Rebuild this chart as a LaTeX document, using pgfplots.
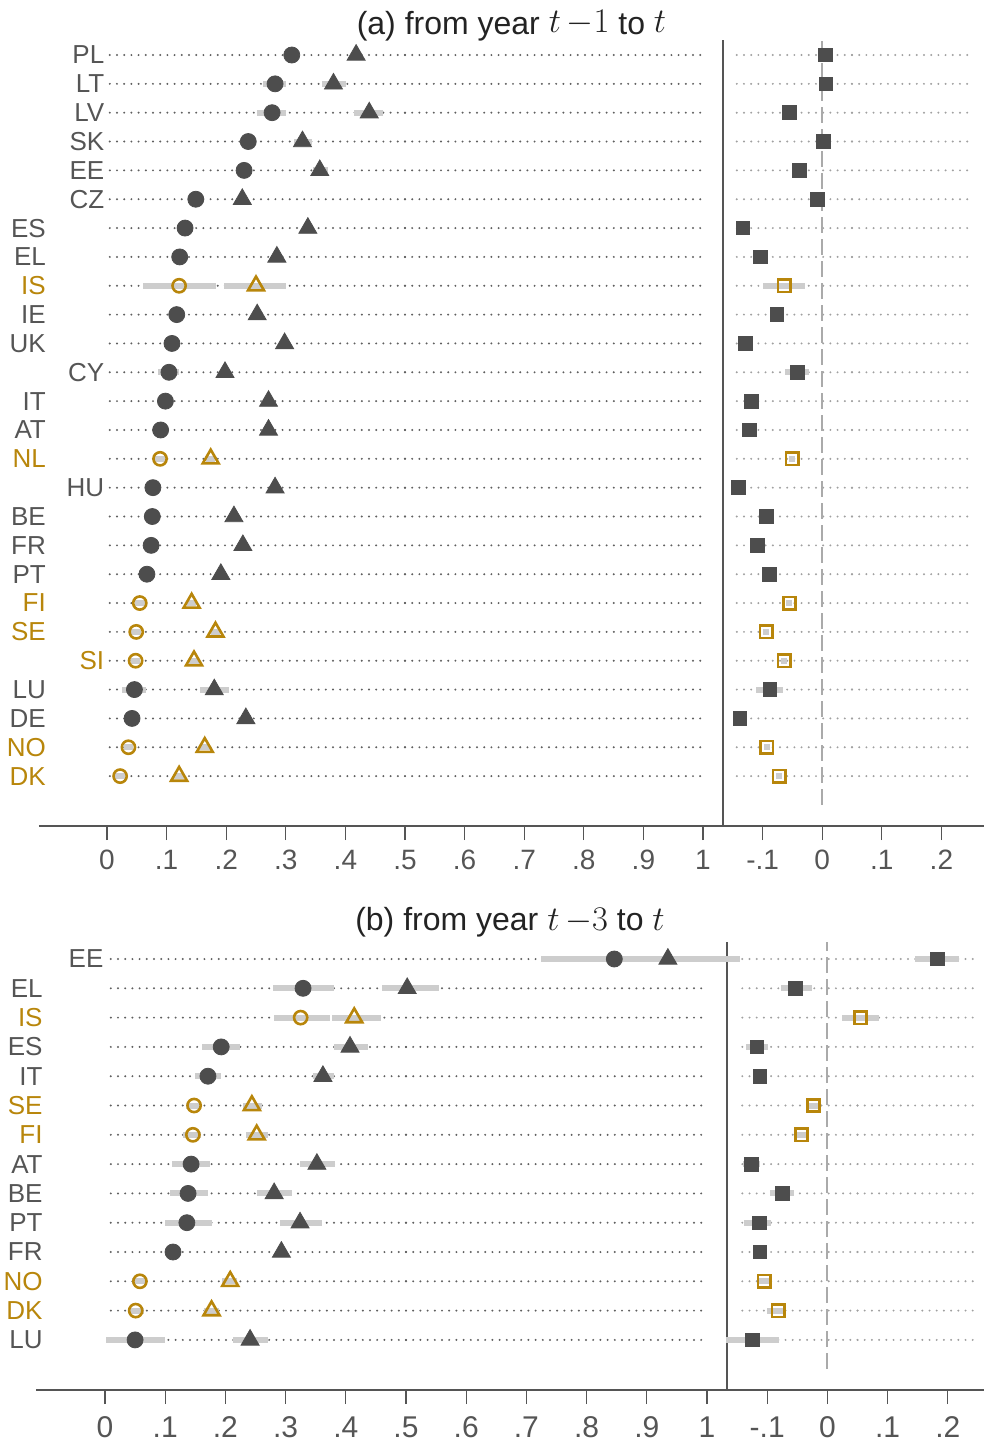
\documentclass[border=0pt]{standalone}
\usepackage{pgfplots}
\pgfplotsset{compat=1.18}
\usepackage{pgfplotstable}
\usepackage{fontspec}
\setmainfont{Liberation Sans}

\definecolor{mkgray}{RGB}{77,77,77}
\definecolor{gold}{RGB}{184,134,11}
\definecolor{labgray}{RGB}{85,85,85}
\definecolor{titlegray}{RGB}{35,35,35}
\definecolor{cigray}{RGB}{205,205,205}
\definecolor{dotdark}{RGB}{95,95,95}
\definecolor{dotlight}{RGB}{160,160,160}
\definecolor{dashgray}{RGB}{170,170,170}

% panel (a): y, label, label x, circle (lo,hi), triangle (lo,hi), square (lo,hi)
\pgfplotstableread{
y  lab lx     c     clo   chi   t     tlo   thi   d      dlo    dhi
26 PL -0.004 0.310 0.302 0.318 0.418 0.410 0.426  0.005  0.000  0.010
25 LT -0.004 0.282 0.262 0.300 0.380 0.361 0.401  0.006  0.001  0.011
24 LV -0.004 0.277 0.252 0.300 0.440 0.414 0.463 -0.055 -0.060 -0.050
23 SK -0.004 0.237 0.229 0.245 0.328 0.313 0.344  0.002 -0.003  0.007
22 EE -0.004 0.230 0.222 0.238 0.357 0.345 0.370 -0.038 -0.043 -0.033
21 CZ -0.004 0.149 0.141 0.157 0.227 0.219 0.235 -0.008 -0.013 -0.003
20 ES -0.102 0.131 0.123 0.139 0.337 0.329 0.345 -0.133 -0.138 -0.128
19 EL -0.102 0.122 0.114 0.130 0.285 0.277 0.293 -0.104 -0.109 -0.099
17 IE -0.102 0.117 0.108 0.126 0.252 0.243 0.262 -0.076 -0.081 -0.071
16 UK -0.102 0.109 0.101 0.117 0.298 0.290 0.306 -0.129 -0.134 -0.124
15 CY -0.004 0.104 0.086 0.120 0.198 0.190 0.206 -0.042 -0.062 -0.022
14 IT -0.102 0.098 0.090 0.106 0.271 0.263 0.279 -0.119 -0.124 -0.114
13 AT -0.102 0.090 0.082 0.098 0.271 0.263 0.279 -0.122 -0.127 -0.117
11 HU -0.004 0.077 0.069 0.085 0.282 0.274 0.290 -0.141 -0.146 -0.136
10 BE -0.102 0.076 0.068 0.084 0.213 0.205 0.221 -0.094 -0.099 -0.089
9  FR -0.102 0.074 0.066 0.082 0.228 0.220 0.236 -0.109 -0.114 -0.104
8  PT -0.102 0.067 0.059 0.075 0.191 0.183 0.199 -0.089 -0.094 -0.084
4  LU -0.102 0.046 0.025 0.066 0.180 0.156 0.204 -0.088 -0.111 -0.065
3  DE -0.102 0.042 0.034 0.050 0.233 0.225 0.241 -0.138 -0.143 -0.133
}\tAgray
\pgfplotstableread{
y  lab lx     c     clo   chi   t     tlo   thi   d      dlo    dhi
18 IS -0.102 0.121 0.060 0.183 0.250 0.196 0.301 -0.064 -0.099 -0.029
12 NL -0.102 0.089 0.081 0.097 0.174 0.166 0.182 -0.050 -0.055 -0.045
7  FI -0.102 0.055 0.047 0.063 0.142 0.134 0.150 -0.055 -0.060 -0.050
6  SE -0.102 0.049 0.041 0.057 0.182 0.174 0.190 -0.094 -0.099 -0.089
5  SI -0.004 0.048 0.040 0.056 0.146 0.138 0.154 -0.064 -0.069 -0.059
2  NO -0.102 0.036 0.028 0.044 0.164 0.156 0.172 -0.093 -0.098 -0.088
1  DK -0.102 0.022 0.014 0.030 0.121 0.113 0.129 -0.072 -0.077 -0.067
}\tAgold

% panel (b)
\pgfplotstableread{
y  lab lx     c     clo   chi   t     tlo   thi   d      dlo    dhi
14 EE -0.002 0.846 0.724 0.960 0.935 0.860 1.055  0.183  0.146  0.218
13 EL -0.103 0.329 0.279 0.381 0.502 0.460 0.554 -0.053 -0.077 -0.025
11 ES -0.103 0.193 0.161 0.224 0.407 0.380 0.437 -0.117 -0.136 -0.098
10 IT -0.103 0.171 0.150 0.192 0.362 0.345 0.380 -0.112 -0.122 -0.102
7  AT -0.103 0.143 0.111 0.174 0.352 0.324 0.382 -0.126 -0.140 -0.112
6  BE -0.103 0.138 0.108 0.171 0.281 0.252 0.311 -0.075 -0.096 -0.055
5  PT -0.103 0.136 0.100 0.178 0.324 0.291 0.361 -0.113 -0.138 -0.093
4  FR -0.103 0.113 0.105 0.121 0.293 0.285 0.301 -0.112 -0.118 -0.106
1  LU -0.103 0.050 0.002 0.100 0.241 0.213 0.271 -0.125 -0.168 -0.080
}\tBgray
\pgfplotstableread{
y  lab lx     c     clo   chi   t     tlo   thi   d      dlo    dhi
12 IS -0.103 0.325 0.281 0.373 0.414 0.377 0.459  0.055  0.025  0.086
9  SE -0.103 0.148 0.135 0.160 0.244 0.230 0.260 -0.023 -0.035 -0.012
8  FI -0.103 0.146 0.130 0.160 0.252 0.235 0.270 -0.043 -0.055 -0.030
3  NO -0.103 0.058 0.045 0.070 0.208 0.195 0.220 -0.105 -0.113 -0.097
2  DK -0.103 0.051 0.040 0.065 0.177 0.165 0.190 -0.082 -0.100 -0.069
}\tBgold

\pgfplotsset{
  panel/.style={
    scale only axis, clip=false,
    axis x line*=bottom, axis y line=none,
    x axis line style={-, draw=labgray, line width=1pt},
    xtick={0,0.1,0.2,0.3,0.4,0.5,0.6,0.7,0.8,0.9,1,1.1,1.2,1.3,1.4},
    xticklabels={0,.1,.2,.3,.4,.5,.6,.7,.8,.9,1,-.1,0,.1,.2},
    tick align=outside, major tick length=7pt,
    every tick/.style={draw=labgray, line width=0.6pt},
    xticklabel style={text=labgray, inner sep=0pt, anchor=north},
    title style={font=\fontsize{16}{18}\selectfont, text=titlegray, anchor=south, at={(0.5,1)}, inner sep=0pt, yshift=-4pt},
  },
  rowdots/.style={draw=none, forget plot, mark=none,
    error bars/.cd, x dir=both, x fixed=#1, error mark=none,
    error bar style={draw=dotdark, solid, line width=1.1pt, dash pattern=on 0pt off 3.6pt, line cap=round}},
  rowdotsR/.style={draw=none, forget plot, mark=none,
    error bars/.cd, x dir=both, x fixed=#1, error mark=none,
    error bar style={draw=dotlight, solid, line width=1.1pt, dash pattern=on 0pt off 3.6pt, line cap=round}},
  cibar/.style={draw=none, forget plot, mark=none,
    error bars/.cd, x dir=both, x explicit, error mark=none,
    error bar style={draw=cigray, solid, line width=3pt}},
  labs/.style={draw=none, mark=none,
    forget plot, point meta=explicit symbolic, nodes near coords,
    every node near coord/.append style={anchor=east, inner sep=0pt, text=#1, font=\fontsize{13}{15}\selectfont}},
  gcirc/.style={only marks, mark=*, mark size=4pt, mark options={draw=mkgray, fill=mkgray}},
  gtri/.style={only marks, mark=triangle*, mark size=5.2pt, mark options={draw=mkgray, fill=mkgray}},
  gsq/.style={only marks, mark=square*, mark size=3.4pt, mark options={draw=mkgray, fill=mkgray, rounded corners=0.8pt}},
  ocirc/.style={only marks, mark=o, mark size=3.3pt, mark options={draw=gold, line width=1.3pt, fill=none}},
  otri/.style={only marks, mark=triangle, mark size=4.6pt, mark options={draw=gold, line width=1.3pt, fill=none}},
  osq/.style={only marks, mark=square, mark size=3.1pt, mark options={draw=gold, line width=1.3pt, fill=none}},
}

\newcommand{\rows}[4]{%
  % #1 gray table, #2 gold table, #3 ymax, #4 separator ymin
  \addplot[rowdots=0.5] table[x expr=0.5, y=y] {#1};
  \addplot[rowdots=0.5] table[x expr=0.5, y=y] {#2};
  \addplot[rowdotsR=0.2] table[x expr=1.25, y=y] {#1};
  \addplot[rowdotsR=0.2] table[x expr=1.25, y=y] {#2};
  \addplot[dashgray, line width=1pt, dash pattern=on 8pt off 3pt, forget plot] coordinates {(1.2,0) (1.2,#3)};
  \addplot[labgray, line width=1.1pt, forget plot] coordinates {(1.033,#4) (1.033,#3)};
  \addplot[cibar] table[x=c, y=y, x error plus expr=\thisrow{chi}-\thisrow{c}, x error minus expr=\thisrow{c}-\thisrow{clo}] {#1};
  \addplot[cibar] table[x=t, y=y, x error plus expr=\thisrow{thi}-\thisrow{t}, x error minus expr=\thisrow{t}-\thisrow{tlo}] {#1};
  \addplot[cibar] table[x expr=\thisrow{d}+1.2, y=y, x error plus expr=\thisrow{dhi}-\thisrow{d}, x error minus expr=\thisrow{d}-\thisrow{dlo}] {#1};
  \addplot[cibar] table[x=c, y=y, x error plus expr=\thisrow{chi}-\thisrow{c}, x error minus expr=\thisrow{c}-\thisrow{clo}] {#2};
  \addplot[cibar] table[x=t, y=y, x error plus expr=\thisrow{thi}-\thisrow{t}, x error minus expr=\thisrow{t}-\thisrow{tlo}] {#2};
  \addplot[cibar] table[x expr=\thisrow{d}+1.2, y=y, x error plus expr=\thisrow{dhi}-\thisrow{d}, x error minus expr=\thisrow{d}-\thisrow{dlo}] {#2};
  \addplot[gcirc] table[x=c, y=y] {#1};
  \addplot[gtri] table[x=t, y=y] {#1};
  \addplot[gsq] table[x expr=\thisrow{d}+1.2, y=y] {#1};
  \addplot[ocirc] table[x=c, y=y] {#2};
  \addplot[otri] table[x=t, y=y] {#2};
  \addplot[osq] table[x expr=\thisrow{d}+1.2, y=y] {#2};
  \addplot[labs=labgray] table[x=lx, y=y, meta=lab] {#1};
  \addplot[labs=gold] table[x=lx, y=y, meta=lab] {#2};
}

\begin{document}
\begin{tikzpicture}
\useasboundingbox (0pt,0pt) rectangle (492pt,-720.5pt);
\begin{axis}[panel, at={(19.5pt,-413pt)}, anchor=south west,
  width=472.5pt, height=393pt,
  xmin=-0.1141, xmax=1.4715, ymin=-0.73, ymax=26.52,
  xticklabel style={font=\fontsize{14}{16}\selectfont, yshift=-5pt},
  title style={yshift=-3pt},
  title={(a) from year \raisebox{1pt}{$t\,{-}1$} to \raisebox{1pt}{$t$}}]
\rows{\tAgray}{\tAgold}{26.52}{-0.73}
\end{axis}
\begin{axis}[panel, at={(18pt,-695pt)}, anchor=south west,
  width=474pt, height=224pt,
  xmin=-0.1146, xmax=1.4601, ymin=-0.71, ymax=14.58,
  xticklabel style={font=\fontsize{15}{17}\selectfont, yshift=-6pt},
  title={(b) from year $t\,{-}3$ to $t$}]
\rows{\tBgray}{\tBgold}{14.58}{-0.71}
\end{axis}
\end{tikzpicture}
\end{document}
